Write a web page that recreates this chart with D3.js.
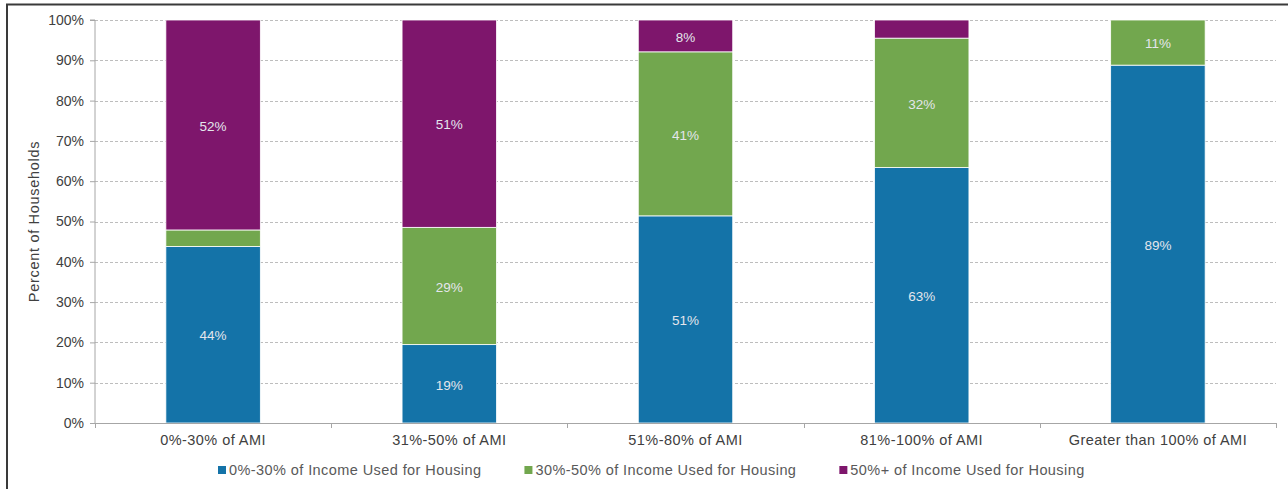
<!DOCTYPE html>
<html>
<head>
<meta charset="utf-8">
<script src="https://cdn.jsdelivr.net/npm/d3@7"></script>
<style>
  html, body { margin: 0; padding: 0; background: #fff; }
  svg { display: block; font-family: "Liberation Sans", Arial, sans-serif; }
</style>
</head>
<body>
<svg id="chart" width="1288" height="489"></svg>
<script>
// Household income bands (share of Area Median Income)
const categories = ["0%-30% of AMI", "31%-50% of AMI", "51%-80% of AMI", "81%-100% of AMI", "Greater than 100% of AMI"];

// Share of households by housing cost burden within each band (percent)
const burdenLow  = [43.8, 19.45, 51.4, 63.4, 88.8];  // 0%-30% of income on housing
const burdenMid  = [4.1, 29.1, 40.7, 32.1, 11.2];    // 30%-50% of income on housing
const burdenHigh = [52.1, 51.45, 7.9, 4.5, 0];       // 50%+ of income on housing

const seriesNames = ["0%-30% of Income Used for Housing", "30%-50% of Income Used for Housing", "50%+ of Income Used for Housing"];
const seriesColors = ["#1473a8", "#72a74e", "#7e166c"];
const yTicks = [0, 10, 20, 30, 40, 50, 60, 70, 80, 90, 100];

const svg = d3.select("#chart");
const margin = { left: 95, right: 1276, top: 20, bottom: 423 };

// Frame lines along the top and left edge
svg.append("line").attr("x1", 6).attr("x2", 1288).attr("y1", 4.5).attr("y2", 4.5)
  .attr("stroke", "#3a3a3a").attr("stroke-width", 2);
svg.append("line").attr("x1", 7).attr("x2", 7).attr("y1", 4).attr("y2", 489)
  .attr("stroke", "#3a3a3a").attr("stroke-width", 2);

const x = d3.scaleBand().domain(categories).range([margin.left, margin.right]).paddingInner(0.6).paddingOuter(0.3);
const xOuter = d3.scaleBand().domain(categories).range([margin.left, margin.right]);
const y = d3.scaleLinear().domain([0, 100]).range([margin.bottom, margin.top]);

// Gridlines
svg.append("g").selectAll("line").data(yTicks.filter(t => t > 0)).join("line")
  .attr("x1", margin.left).attr("x2", margin.right)
  .attr("y1", d => Math.round(y(d)) + 0.5).attr("y2", d => Math.round(y(d)) + 0.5)
  .attr("stroke", "#bdbdbd").attr("stroke-width", 1).attr("stroke-dasharray", "3,2");

// Stacked data
const rows = categories.map((c, i) => ({ cat: c, s0: burdenLow[i], s1: burdenMid[i], s2: burdenHigh[i] }));
const stack = d3.stack().keys(["s0", "s1", "s2"])(rows);

const layers = svg.append("g").selectAll("g").data(stack).join("g")
  .attr("fill", (d, i) => seriesColors[i]);

layers.selectAll("rect").data(d => d.filter(p => p[1] - p[0] > 0)).join("rect")
  .attr("x", d => x(d.data.cat))
  .attr("width", x.bandwidth())
  .attr("y", d => y(d[1]))
  .attr("height", d => y(d[0]) - y(d[1]))
  .attr("stroke", "#ffffff").attr("stroke-width", 0.8);

// Segment value labels
layers.selectAll("text").data(d => d.filter(p => p[1] - p[0] >= 5)).join("text")
  .attr("x", d => x(d.data.cat) + x.bandwidth() / 2)
  .attr("y", d => (y(d[0]) + y(d[1])) / 2 + 1)
  .attr("dy", "0.35em")
  .attr("text-anchor", "middle")
  .attr("fill", "#e4e6ec")
  .attr("font-size", 13.5)
  .text(d => Math.round(d[1] - d[0]) + "%");

// Y axis
const yAxis = svg.append("g").attr("transform", `translate(${margin.left},0)`)
  .call(d3.axisLeft(y).tickValues(yTicks).tickFormat(d => d + "%").tickSize(5).tickPadding(6));
yAxis.select(".domain").attr("stroke", "#a6a6a6").attr("d", `M-5,${margin.top}H0V${margin.bottom}`);
yAxis.selectAll(".tick line").attr("stroke", "#a6a6a6");
yAxis.selectAll(".tick text").attr("fill", "#404040").attr("font-size", 14).attr("font-family", "Liberation Sans, Arial, sans-serif");

// X axis with ticks at category boundaries
const xg = svg.append("g");
xg.append("line").attr("x1", margin.left).attr("x2", margin.right)
  .attr("y1", margin.bottom + 0.5).attr("y2", margin.bottom + 0.5).attr("stroke", "#a6a6a6");
const bounds = categories.map(c => xOuter(c)).concat([margin.right]);
xg.selectAll("line.b").data(bounds).join("line").attr("class", "b")
  .attr("x1", d => Math.round(d) + 0.5).attr("x2", d => Math.round(d) + 0.5)
  .attr("y1", margin.bottom).attr("y2", margin.bottom + 5).attr("stroke", "#a6a6a6");
xg.selectAll("text").data(categories).join("text")
  .attr("x", d => xOuter(d) + xOuter.bandwidth() / 2)
  .attr("y", 440).attr("dy", "0.35em")
  .attr("text-anchor", "middle").attr("fill", "#404040").attr("font-size", 14.5)
  .attr("letter-spacing", 0.45)
  .text(d => d);

// Y axis title
svg.append("text")
  .attr("transform", `translate(34,${(margin.top + margin.bottom) / 2}) rotate(-90)`)
  .attr("text-anchor", "middle").attr("dy", "0.35em")
  .attr("fill", "#404040").attr("font-size", 14.5)
  .attr("letter-spacing", 0.7)
  .text("Percent of Households");

// Legend
const legend = svg.append("g");
let lx = 218;
seriesNames.forEach((name, i) => {
  const g = legend.append("g").attr("transform", `translate(${lx},470)`);
  g.append("rect").attr("x", 0).attr("y", -4).attr("width", 8).attr("height", 8).attr("fill", seriesColors[i]);
  const t = g.append("text").attr("x", 11).attr("dy", "0.35em")
    .attr("fill", "#595959").attr("font-size", 14.5).attr("letter-spacing", 0.42).text(name);
  lx += 11 + t.node().getComputedTextLength() + 43;
});
</script>
</body>
</html>
